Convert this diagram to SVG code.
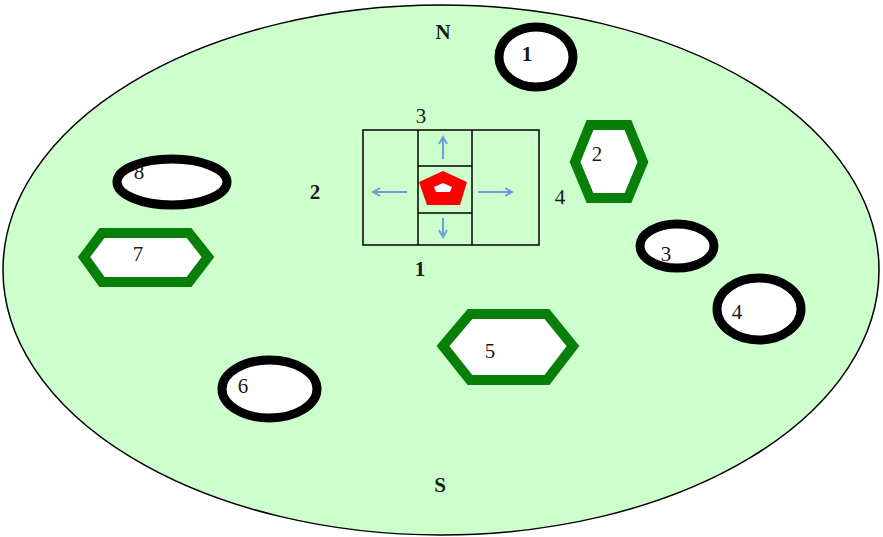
<svg xmlns="http://www.w3.org/2000/svg" width="883" height="537" viewBox="0 0 883 537">
<style>
.t{font-family:"Liberation Serif",serif;font-size:21px;fill:#1a1a1a;text-anchor:middle}
.b{font-weight:bold}
.oval{fill:#fff;stroke:#000;stroke-width:9}
.hex{fill:#fff;stroke:#087f08;stroke-width:10;stroke-linejoin:miter}
.grid{fill:none;stroke:#000;stroke-width:1.5}
.arr{stroke:#6a9fd8;stroke-width:2;fill:none;marker-end:url(#ah)}
</style>
<defs>
<marker id="ah" markerWidth="10" markerHeight="10" refX="8" refY="5" orient="auto" markerUnits="userSpaceOnUse">
<path d="M1,1 L8,5 L1,9" fill="none" stroke="#6a9fd8" stroke-width="2"/>
</marker>
</defs>
<g id="field">
<ellipse cx="441" cy="270" rx="438" ry="265" fill="#ccffcc" stroke="#000" stroke-width="1.5"/>
<text class="t b" x="443" y="39" font-size="22">N</text>
<text class="t b" x="440" y="492" font-size="22">S</text>
</g>
<g id="grid">
<rect class="grid" x="363" y="130" width="176" height="115"/>
<line class="grid" x1="418" y1="130" x2="418" y2="245"/>
<line class="grid" x1="472" y1="130" x2="472" y2="245"/>
<line class="grid" x1="418" y1="166" x2="472" y2="166"/>
<line class="grid" x1="418" y1="213" x2="472" y2="213"/>
<text class="t" x="421" y="123">3</text>
<text class="t b" x="420" y="276" font-size="16">1</text>
<text class="t b" x="315" y="199" font-size="16">2</text>
<text class="t" x="560" y="204">4</text>
</g>
<g id="robot">
<polygon points="443,171 467,182 460,205 427,205 419,182" fill="#ff0000"/>
<polygon points="443,183 452,187 450,192 436,192 434,187" fill="#fff"/>
</g>
<g id="connectors">
<line class="arr" x1="443" y1="159" x2="443" y2="137"/>
<line class="arr" x1="443" y1="218" x2="443" y2="237"/>
<line class="arr" x1="407" y1="192" x2="373" y2="192"/>
<line class="arr" x1="478" y1="192" x2="512" y2="192"/>
</g>
<g id="obstacle1">
<ellipse class="oval" cx="536" cy="57" rx="37" ry="30"/>
<text class="t b" x="527" y="61" font-size="15">1</text>
</g>
<g id="obstacle2">
<polygon class="hex" points="590,125 628,125 643,162 628,198 590,198 575,162"/>
<text class="t" x="597" y="161">2</text>
</g>
<g id="obstacle3">
<ellipse class="oval" cx="677" cy="246" rx="37" ry="22"/>
<text class="t" x="666" y="261">3</text>
</g>
<g id="obstacle4">
<ellipse class="oval" cx="759" cy="309" rx="42" ry="31"/>
<text class="t" x="737" y="319">4</text>
</g>
<g id="obstacle5">
<polygon class="hex" points="443,346 470,314 547,314 573,346 547,380 470,380"/>
<text class="t" x="490" y="358">5</text>
</g>
<g id="obstacle6">
<ellipse class="oval" cx="269.5" cy="389" rx="47.5" ry="29"/>
<text class="t" x="243" y="393">6</text>
</g>
<g id="obstacle7">
<polygon class="hex" points="84,257 102,233 189,233 208,257 189,282 102,282"/>
<text class="t" x="138" y="261">7</text>
</g>
<g id="obstacle8">
<ellipse class="oval" cx="172" cy="182" rx="55" ry="23"/>
<text class="t" x="139" y="179">8</text>
</g>
</svg>
